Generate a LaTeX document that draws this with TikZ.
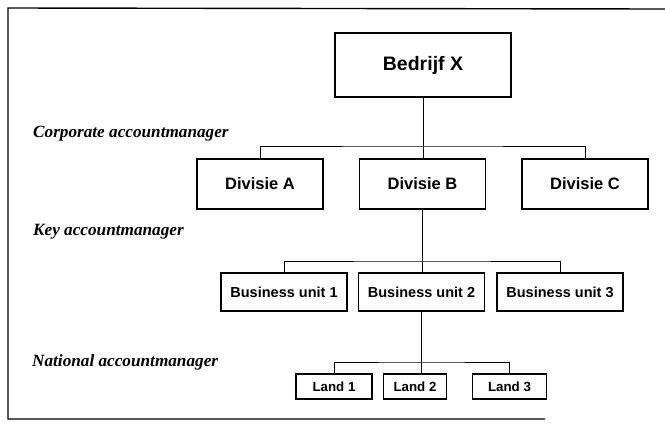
\documentclass[tikz,border=0pt]{standalone}
\usepackage{fontspec}
\setmainfont{Liberation Serif}
\newfontfamily\boxfont{Liberation Sans}
\begin{document}
\begin{tikzpicture}[x=1pt,y=-1pt,
  unit/.style={draw, line width=1.2pt, inner sep=0pt},
  toplevel/.style={unit, minimum width=176pt, minimum height=64pt,
    font=\boxfont\bfseries\fontsize{19.5}{22}\selectfont},
  division/.style={unit, minimum width=126pt, minimum height=50pt,
    font=\boxfont\bfseries\fontsize{16.5}{19}\selectfont},
  bunit/.style={unit, minimum width=126pt, minimum height=38pt,
    font=\boxfont\bfseries\fontsize{14.5}{17}\selectfont},
  country/.style={unit, minimum height=25pt,
    font=\boxfont\bfseries\fontsize{13.3}{15}\selectfont},
  role/.style={anchor=base west, inner sep=0pt,
    font=\fontsize{17.2}{20}\selectfont\bfseries\itshape},
  link/.style={line width=1pt}]
\useasboundingbox (0,0) rectangle (665,424);

% open frame around the chart
\draw[line width=1.4pt] (545,419) -- (8,419) -- (8,8) -- (665,9);

% organisation units
\node[toplevel] (top) at (423,65) {Bedrijf X};

\node[division] (dA) at (260,184) {Divisie A};
\node[division] (dB) at (422.5,184) {Divisie B};
\node[division] (dC) at (585,184) {Divisie C};

\node[bunit] (bu1) at (284,292) {Business unit 1};
\node[bunit] (bu2) at (421.5,292) {Business unit 2};
\node[bunit] (bu3) at (560,292) {Business unit 3};

\node[country, minimum width=76pt] (l1) at (334,386.5) {Land 1};
\node[country, minimum width=63.5pt] (l2) at (415,386.5) {Land 2};
\node[country, minimum width=74pt] (l3) at (509.5,386.5) {Land 3};

% account manager levels
\node[role] (corp) at (33,137) {Corporate accountmanager};
\node[role] (key) at (33,235) {Key accountmanager};
\node[role] (nat) at (32,366) {National accountmanager};

% reporting lines
\coordinate (bus1) at (422.5,146);
\coordinate (bus2) at (421.5,261);
\coordinate (bus3) at (421.5,362);

\draw[link] (top.south) -- (top.south |- dB.north);
\draw[link] (dA.north) |- (bus1) -| (dC.north);

\draw[link] (dB.south) -- (dB.south |- bu2.north);
\draw[link] (bu1.north) |- (bus2) -| (bu3.north);

\draw[link] (bu2.south) -- (bu2.south |- l2.north);
\draw[link] (l1.north) |- (bus3) -| (l3.north);
\end{tikzpicture}
\end{document}
